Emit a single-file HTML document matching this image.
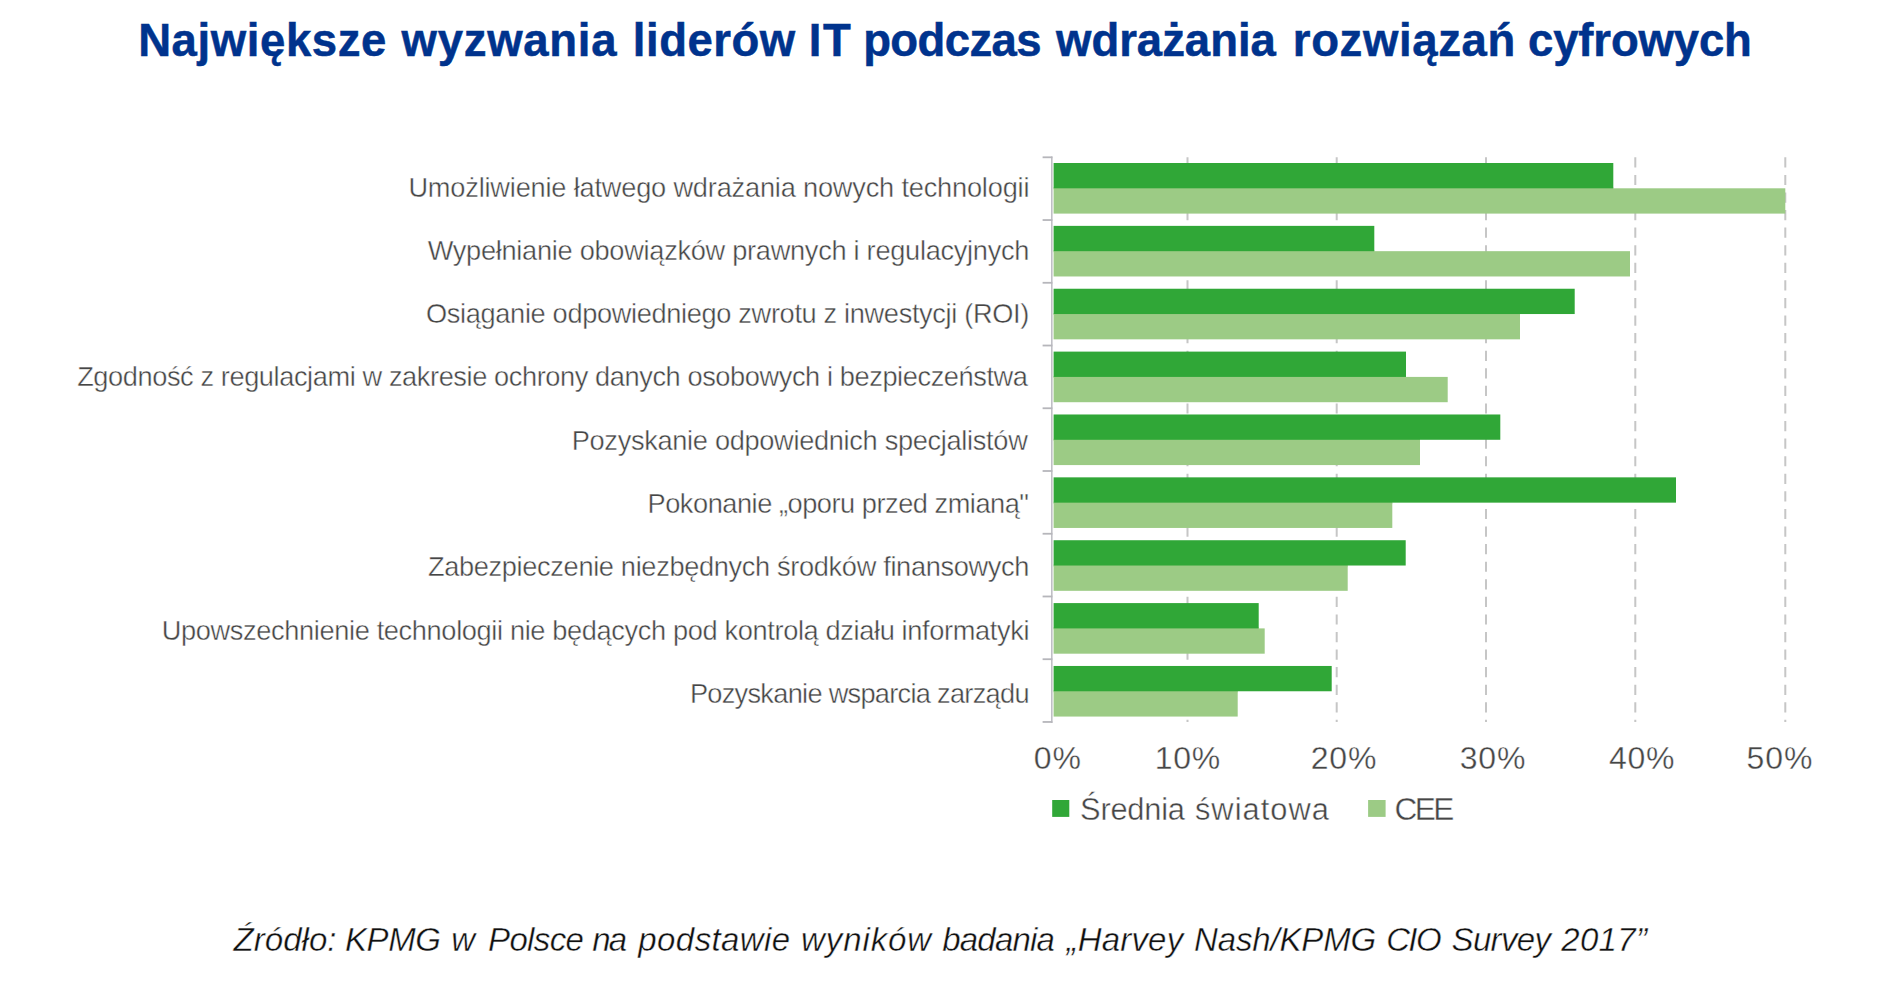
<!DOCTYPE html>
<html lang="pl"><head><meta charset="utf-8"><title>Największe wyzwania liderów IT podczas wdrażania rozwiązań cyfrowych</title>
<style>
html,body{margin:0;padding:0;background:#fff}
body{width:1890px;height:984px;overflow:hidden}
svg{display:block;font-family:"Liberation Sans",Arial,Helvetica,sans-serif}
text{white-space:pre}
</style></head><body>
<svg width="1890" height="984" viewBox="0 0 1890 984">
<rect width="1890" height="984" fill="#fff"/>
<g font-size="45.5" font-weight="bold" fill="#00338d" stroke="#00338d" stroke-width="0.5">
<text y="55.60"><tspan x="138.15" textLength="248.28">Największe</tspan> <tspan x="401.60" textLength="214.88">wyzwania</tspan> <tspan x="632.84" textLength="162.32">liderów</tspan> <tspan x="808.76" textLength="41.94">IT</tspan> <tspan x="863.15" textLength="178.46">podczas</tspan> <tspan x="1056.00" textLength="219.85">wdrażania</tspan> <tspan x="1292.84" textLength="222.36">rozwiązań</tspan> <tspan x="1528.00" textLength="223.89">cyfrowych</tspan></text>
</g>
<g stroke="#c6c6c6" stroke-width="2" stroke-dasharray="10.2 7.38" fill="none">
<line x1="1187.5" y1="157.3" x2="1187.5" y2="722.0"/>
<line x1="1336.7" y1="157.3" x2="1336.7" y2="722.0"/>
<line x1="1486.0" y1="157.3" x2="1486.0" y2="722.0"/>
<line x1="1635.3" y1="157.3" x2="1635.3" y2="722.0"/>
<line x1="1785.3" y1="157.3" x2="1785.3" y2="722.0"/>
</g>
<g>
<rect x="1053.6" y="187.30" width="559.7" height="2" fill="#9ccb85"/>
<rect x="1053.6" y="188.30" width="731.7" height="25.30" fill="#9ccb85"/>
<rect x="1053.6" y="163.00" width="559.7" height="25.30" fill="#30a737"/>
<rect x="1053.6" y="250.17" width="320.7" height="2" fill="#9ccb85"/>
<rect x="1053.6" y="251.17" width="576.4" height="25.30" fill="#9ccb85"/>
<rect x="1053.6" y="225.87" width="320.7" height="25.30" fill="#30a737"/>
<rect x="1053.6" y="313.04" width="466.4" height="2" fill="#9ccb85"/>
<rect x="1053.6" y="314.04" width="466.4" height="25.30" fill="#9ccb85"/>
<rect x="1053.6" y="288.74" width="521.1" height="25.30" fill="#30a737"/>
<rect x="1053.6" y="375.91" width="352.4" height="2" fill="#9ccb85"/>
<rect x="1053.6" y="376.91" width="394.1" height="25.30" fill="#9ccb85"/>
<rect x="1053.6" y="351.61" width="352.4" height="25.30" fill="#30a737"/>
<rect x="1053.6" y="438.78" width="366.4" height="2" fill="#9ccb85"/>
<rect x="1053.6" y="439.78" width="366.4" height="25.30" fill="#9ccb85"/>
<rect x="1053.6" y="414.48" width="446.7" height="25.30" fill="#30a737"/>
<rect x="1053.6" y="501.65" width="338.7" height="2" fill="#9ccb85"/>
<rect x="1053.6" y="502.65" width="338.7" height="25.30" fill="#9ccb85"/>
<rect x="1053.6" y="477.35" width="622.4" height="25.30" fill="#30a737"/>
<rect x="1053.6" y="564.52" width="294.1" height="2" fill="#9ccb85"/>
<rect x="1053.6" y="565.52" width="294.1" height="25.30" fill="#9ccb85"/>
<rect x="1053.6" y="540.22" width="352.1" height="25.30" fill="#30a737"/>
<rect x="1053.6" y="627.39" width="205.1" height="2" fill="#9ccb85"/>
<rect x="1053.6" y="628.39" width="211.1" height="25.30" fill="#9ccb85"/>
<rect x="1053.6" y="603.09" width="205.1" height="25.30" fill="#30a737"/>
<rect x="1053.6" y="690.26" width="184.1" height="2" fill="#9ccb85"/>
<rect x="1053.6" y="691.26" width="184.1" height="25.30" fill="#9ccb85"/>
<rect x="1053.6" y="665.96" width="278.1" height="25.30" fill="#30a737"/>
</g>
<line x1="1051.8" y1="156.4" x2="1051.8" y2="722.9" stroke="#bfbfc5" stroke-width="1.6"/>
<g stroke="#b6b6bb" stroke-width="1.8" fill="none">
<line x1="1042.6" y1="157.30" x2="1052.4" y2="157.30"/>
<line x1="1042.6" y1="220.04" x2="1052.4" y2="220.04"/>
<line x1="1042.6" y1="282.78" x2="1052.4" y2="282.78"/>
<line x1="1042.6" y1="345.52" x2="1052.4" y2="345.52"/>
<line x1="1042.6" y1="408.26" x2="1052.4" y2="408.26"/>
<line x1="1042.6" y1="471.00" x2="1052.4" y2="471.00"/>
<line x1="1042.6" y1="533.74" x2="1052.4" y2="533.74"/>
<line x1="1042.6" y1="596.48" x2="1052.4" y2="596.48"/>
<line x1="1042.6" y1="659.22" x2="1052.4" y2="659.22"/>
<line x1="1042.6" y1="721.96" x2="1052.4" y2="721.96"/>
</g>
<g font-size="27.2" fill="#464646" stroke="#fff" stroke-width="0.4">
<text x="408.41" y="196.50" textLength="621.06">Umożliwienie łatwego wdrażania nowych technologii</text>
<text x="427.65" y="259.79" textLength="601.78">Wypełnianie obowiązków prawnych i regulacyjnych</text>
<text x="426.01" y="323.08" textLength="603.35">Osiąganie odpowiedniego zwrotu z inwestycji (ROI)</text>
<text x="77.14" y="386.37" textLength="950.80">Zgodność z regulacjami w zakresie ochrony danych osobowych i bezpieczeństwa</text>
<text x="571.73" y="449.66" textLength="456.07">Pozyskanie odpowiednich specjalistów</text>
<text x="647.55" y="512.95" textLength="381.45">Pokonanie „oporu przed zmianą"</text>
<text x="427.93" y="576.24" textLength="601.49">Zabezpieczenie niezbędnych środków finansowych</text>
<text x="161.76" y="639.53" textLength="867.71">Upowszechnienie technologii nie będących pod kontrolą działu informatyki</text>
<text x="689.89" y="702.82" textLength="339.61">Pozyskanie wsparcia zarządu</text>
</g>
<g font-size="32" fill="#464646" stroke="#fff" stroke-width="0.35">
<text x="1033.67" y="768.70" textLength="47.32">0%</text>
<text x="1154.73" y="768.70" textLength="65.38">10%</text>
<text x="1310.81" y="768.70" textLength="65.57">20%</text>
<text x="1459.79" y="768.70" textLength="65.59">30%</text>
<text x="1609.11" y="768.70" textLength="65.27">40%</text>
<text x="1746.42" y="768.70" textLength="65.96">50%</text>
</g>
<g font-size="30.8" fill="#464646" stroke="#fff" stroke-width="0.4">
<text y="819.60"><tspan x="1080.12" textLength="104.76">Średnia</tspan> <tspan x="1194.91" textLength="133.97">światowa</tspan></text>
</g>
<g font-size="31.6" fill="#464646" stroke="#fff" stroke-width="0.4">
<text x="1394.56" y="819.60" textLength="59.68">CEE</text>
</g>
<rect x="1052.2" y="800" width="17.1" height="16.9" fill="#30a737"/>
<rect x="1368.1" y="800" width="17.5" height="16.9" fill="#9ccb85"/>
<g font-size="33" font-style="italic" fill="#101010" stroke="#fff" stroke-width="0.4">
<text y="950.80"><tspan x="233.59" textLength="102.94">Źródło:</tspan> <tspan x="344.96" textLength="95.99">KPMG</tspan> <tspan x="451.24" textLength="38.34">w</tspan> <tspan x="488.06" textLength="95.80">Polsce</tspan> <tspan x="592.26" textLength="34.75">na</tspan> <tspan x="638.36" textLength="151.84">podstawie</tspan> <tspan x="801.12" textLength="129.94">wyników</tspan> <tspan x="942.18" textLength="112.74">badania</tspan> <tspan x="1066.47" textLength="116.68">„Harvey</tspan> <tspan x="1194.06" textLength="182.13">Nash/KPMG</tspan> <tspan x="1386.13" textLength="55.48">CIO</tspan> <tspan x="1451.55" textLength="99.47">Survey</tspan> <tspan x="1561.24" textLength="85.76">2017”</tspan></text>
</g>
</svg></body></html>
